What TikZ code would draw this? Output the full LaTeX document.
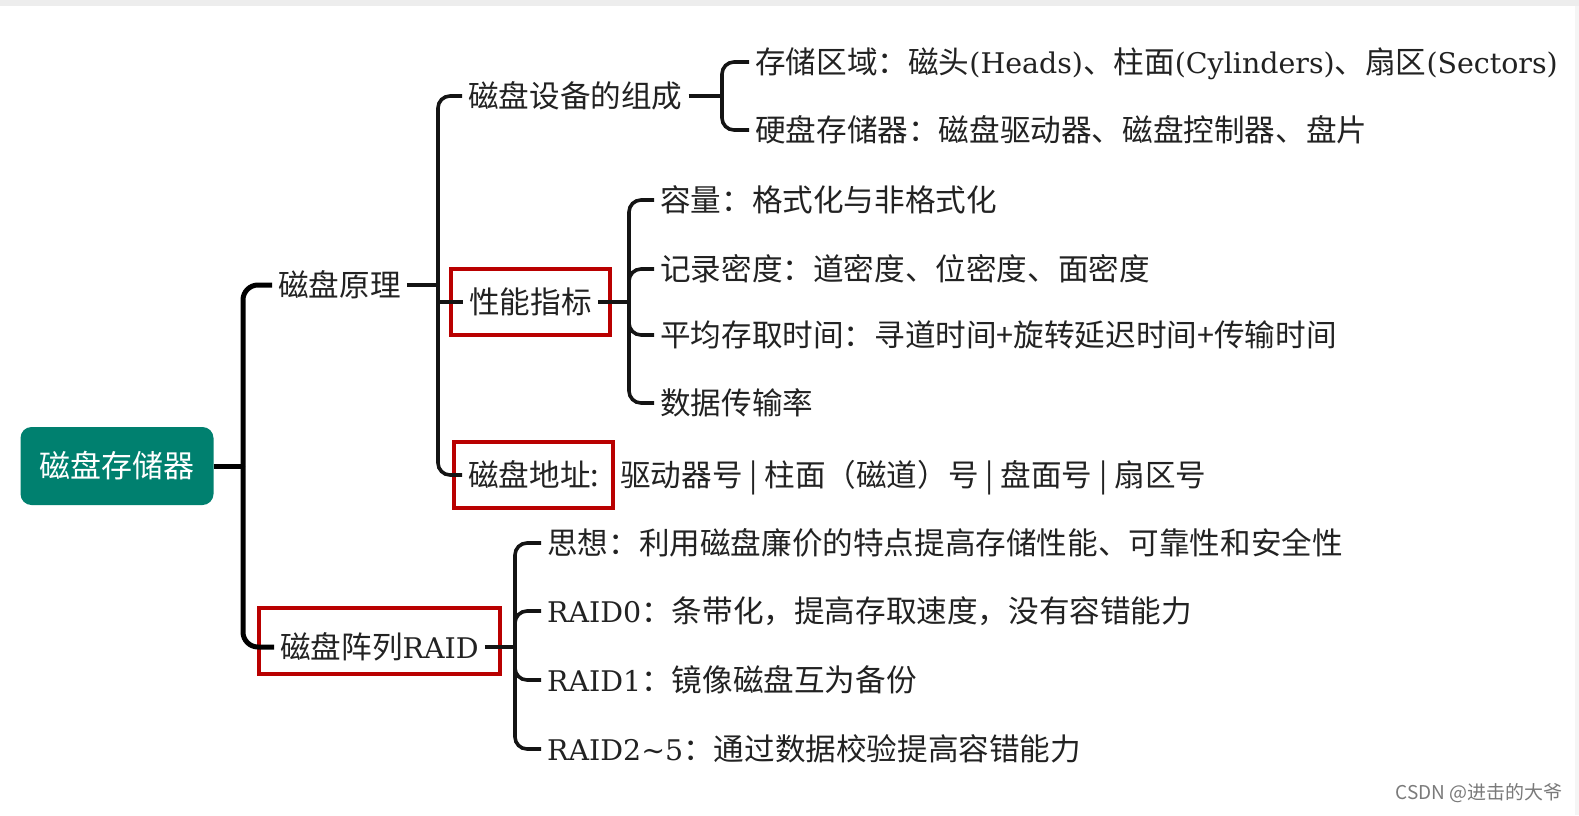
\documentclass[tikz,border=0pt]{standalone}
\usepackage{fontspec}
\setmainfont{Noto Sans CJK SC}
\newfontfamily\latserif{DejaVu Serif}[Scale=0.93]
\newcommand\lt[1]{{\latserif #1}}
\usetikzlibrary{fit}
\definecolor{rootc}{RGB}{0,128,111}
\definecolor{redc}{RGB}{185,0,0}
\definecolor{txtc}{RGB}{34,34,34}
\begin{document}
\begin{tikzpicture}[x=1pt,y=-1pt,
  txt/.style={anchor=west, inner xsep=6pt, inner ysep=0pt, text height=24pt, text depth=1.2pt,
    font=\fontsize{30.6}{36}\selectfont, text=txtc},
  trunk/.style={line width=5pt, draw=black, rounded corners=15pt},
  br/.style={line width=3.6pt, draw=black!92, rounded corners=12pt},
  redbox/.style={draw=redc, line width=4.2pt, inner ysep=20pt},
  rootbox/.style={fill=rootc, rounded corners=11pt, minimum width=193pt, minimum height=78pt,
    text=white, font=\fontsize{31}{36}\selectfont, inner sep=0pt, text height=24pt, text depth=1.2pt}]
\useasboundingbox (0,0) rectangle (1579,815);
\fill[white] (0,0) rectangle (1579,815);
\fill[black!7] (0,0) rectangle (1579,6);
\fill[black!4] (1575,6) rectangle (1579,815);

% nodes
\node[rootbox] (root) at (117,466) {磁盘存储器};
\node[txt] (yl) at (272,285) {磁盘原理};
\node[txt] (raid) at (274,647) {磁盘阵列\lt{RAID}};
\node[txt] (zc) at (462,96) {磁盘设备的组成};
\node[txt] (xn) at (463,302) {性能指标};
\node[txt] (dz) at (462,475) {磁盘地址:};
\node[txt, inner xsep=0pt] (dzr) at (620,475) {驱动器号 | 柱面（磁道）号 | 盘面号 | 扇区号};
\node[txt] (c1) at (749,62) {存储区域：磁头\lt{(Heads)}、柱面\lt{(Cylinders)}、扇区\lt{(Sectors)}};
\node[txt] (c2) at (749,130) {硬盘存储器：磁盘驱动器、磁盘控制器、盘片};
\node[txt] (p1) at (654,200) {容量：格式化与非格式化};
\node[txt] (p2) at (654,269) {记录密度：道密度、位密度、面密度};
\node[txt] (p3) at (654,335) {平均存取时间：寻道时间+旋转延迟时间+传输时间};
\node[txt] (p4) at (654,403) {数据传输率};
\node[txt] (r1) at (541,543) {思想：利用磁盘廉价的特点提高存储性能、可靠性和安全性};
\node[txt] (r2) at (541,611) {\lt{RAID0}：条带化，提高存取速度，没有容错能力};
\node[txt] (r3) at (541,680) {\lt{RAID1}：镜像磁盘互为备份};
\node[txt] (r4) at (541,749) {\lt{RAID2\textasciitilde5}：通过数据校验提高容错能力};

% red highlight boxes
\node[redbox, fit=(xn), inner xsep=12pt] (bxn) {};
\node[redbox, fit=(dz), inner xsep=8pt] (bdz) {};
\node[redbox, fit=(raid), inner xsep=15pt, yshift=6pt] (braid) {};

% connectors
\coordinate (j0) at (243,466);
\draw[trunk] (root.east) -- (j0);
\draw[trunk] (j0) |- (yl.west);
\draw[trunk] (j0) |- (raid.west);

\coordinate (j1) at (438,285);
\draw[br] (yl.east) -- (j1);
\draw[br] (j1) |- (zc.west);
\draw[br, sharp corners] (j1) |- (xn.west);
\draw[br] (j1) |- (dz.west);

\coordinate (j2) at (722,96);
\draw[br] (zc.east) -- (j2);
\draw[br] (j2) |- (c1.west);
\draw[br] (j2) |- (c2.west);

\coordinate (j3) at (629,302);
\draw[br] (xn.east) -- (j3);
\draw[br] (j3) |- (p1.west);
\draw[br] (j3) |- (p2.west);
\draw[br] (j3) |- (p3.west);
\draw[br] (j3) |- (p4.west);

\coordinate (j4) at (515,647);
\draw[br] (raid.east) -- (j4);
\draw[br] (j4) |- (r1.west);
\draw[br] (j4) |- (r2.west);
\draw[br] (j4) |- (r3.west);
\draw[br] (j4) |- (r4.west);

% watermark
\node[anchor=east, inner sep=0pt, font=\fontsize{19}{22}\selectfont, text=black!52] (wm) at (1563,793) {CSDN @进击的大爷};
\end{tikzpicture}
\end{document}
